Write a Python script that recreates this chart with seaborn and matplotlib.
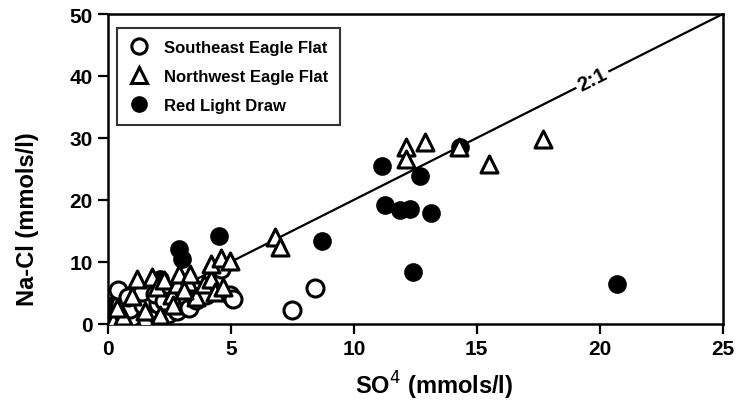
import matplotlib
matplotlib.use("Agg")
import matplotlib.pyplot as plt
import numpy as np
import pandas as pd
import seaborn as sns
from matplotlib.lines import Line2D

# --- data (SO4, Na-Cl in mmols/l) ---
se_so4 = [0.28, 0.7, 1.0, 1.57, 2.05, 2.45, 0.49, 0.89, 1.42, 2.05, 0.42, 0.82,
          1.37, 1.9, 2.3, 2.8, 3.3, 3.6, 4.0, 4.6, 4.95, 5.09, 7.47, 8.41]
se_nacl = [0.5, 0.3, 1.1, 0.5, 1.3, 1.6, 3.2, 2.4, 3.0, 3.2, 5.4, 4.3,
           5.1, 4.8, 3.6, 2.0, 2.6, 3.8, 4.6, 8.9, 4.6, 4.0, 2.3, 5.7]

nw_so4 = [0.2, 0.6, 0.35, 1.0, 1.17, 1.78, 1.5, 2.1, 2.0, 2.3, 2.6, 2.65, 2.8,
          2.9, 3.25, 3.33, 3.6, 3.9, 4.2, 4.2, 4.35, 4.6, 4.7, 4.96, 3.1,
          6.8, 7.0, 12.14, 12.14, 12.9, 14.27, 15.5, 17.7]
nw_nacl = [0.5, 1.3, 2.5, 4.5, 7.3, 7.5, 2.0, 1.5, 6.0, 7.0, 4.6, 3.0, 6.5,
           8.1, 6.8, 8.1, 4.3, 6.5, 7.3, 9.7, 5.1, 10.7, 6.0, 10.2, 5.5,
           14.0, 12.4, 28.5, 26.6, 29.3, 28.5, 25.8, 29.8]

rl_so4 = [0.1, 0.15, 0.2, 2.1, 2.9, 3.0, 4.5, 8.72, 11.15, 11.26, 11.87, 12.3,
          12.4, 12.68, 13.13, 14.3, 20.7]
rl_nacl = [0.2, 1.5, 3.0, 7.3, 12.0, 10.5, 14.1, 13.3, 25.5, 19.2, 18.3, 18.5,
           8.3, 23.9, 17.9, 28.6, 6.5]

labels = ["Southeast Eagle Flat", "Northwest Eagle Flat", "Red Light Draw"]
x_ticks = [0, 5, 10, 15, 20, 25]
y_ticks = [0, 10, 20, 30, 40, 50]
ratio_x = [0, 25]

df_se = pd.DataFrame({"so4": se_so4, "nacl": se_nacl})
df_nw = pd.DataFrame({"so4": nw_so4, "nacl": nw_nacl})
df_rl = pd.DataFrame({"so4": rl_so4, "nacl": rl_nacl})

sns.set_theme(style="ticks")
plt.rcParams["font.family"] = ["Liberation Sans", "DejaVu Sans"]
plt.rcParams["text.color"] = "black"

fig = plt.figure(figsize=(7.39, 4.06), dpi=100)
ax = fig.add_axes([0.146, 0.2, 0.832, 0.763])

# 2:1 reference line
ax.plot(ratio_x, [2 * v for v in ratio_x], color="black", lw=1.6, zorder=1)

ms = 150
sns.scatterplot(data=df_rl, x="so4", y="nacl", marker="o", s=ms,
                color="black", edgecolor="black", linewidth=1.2, ax=ax, zorder=2)
sns.scatterplot(data=df_se, x="so4", y="nacl", marker="o", s=ms,
                facecolor="white", edgecolor="black", linewidth=2.2, ax=ax, zorder=3)
sns.scatterplot(data=df_nw, x="so4", y="nacl", marker="^", s=ms,
                facecolor="white", edgecolor="black", linewidth=2.2, ax=ax, zorder=4)

# label on the line
ax.text(19.7, 39.4, "2:1", rotation=26.7, ha="center", va="center",
        fontsize=15, fontweight="bold", zorder=5,
        bbox=dict(facecolor="white", edgecolor="none", pad=2))

ax.set_xlim(0, 25)
ax.set_ylim(0, 50)
ax.set_xticks(x_ticks)
ax.set_yticks(y_ticks)
ax.tick_params(direction="out", length=7, width=1.6, labelsize=15,
               colors="black", top=False, right=False, pad=4)
for t in ax.get_xticklabels() + ax.get_yticklabels():
    t.set_fontweight("bold")
for sp in ax.spines.values():
    sp.set_visible(True)
    sp.set_linewidth(1.8)
    sp.set_color("black")

ax.set_xlabel("SO$^4$ (mmols/l)", fontsize=17, fontweight="bold", color="black")
ax.set_ylabel("Na-Cl (mmols/l)", fontsize=17, fontweight="bold", color="black")
ax.xaxis.set_label_coords(0.53, -0.145)
ax.yaxis.set_label_coords(-0.112, 0.34)

handles = [
    Line2D([], [], marker="o", ls="none", markersize=11, markerfacecolor="white",
           markeredgecolor="black", markeredgewidth=2.2),
    Line2D([], [], marker="^", ls="none", markersize=11, markerfacecolor="white",
           markeredgecolor="black", markeredgewidth=2.2),
    Line2D([], [], marker="o", ls="none", markersize=11, markerfacecolor="black",
           markeredgecolor="black"),
]
leg = ax.legend(handles, labels, loc="upper left", frameon=True,
                prop={"size": 12, "weight": "bold"},
                fancybox=False, edgecolor="black", borderpad=0.7,
                labelspacing=0.85, handlelength=1.2, handletextpad=0.9,
                borderaxespad=0, bbox_to_anchor=(0.015, 0.955))
leg.get_frame().set_linewidth(1.5)

fig.savefig("out.png", dpi=100)
